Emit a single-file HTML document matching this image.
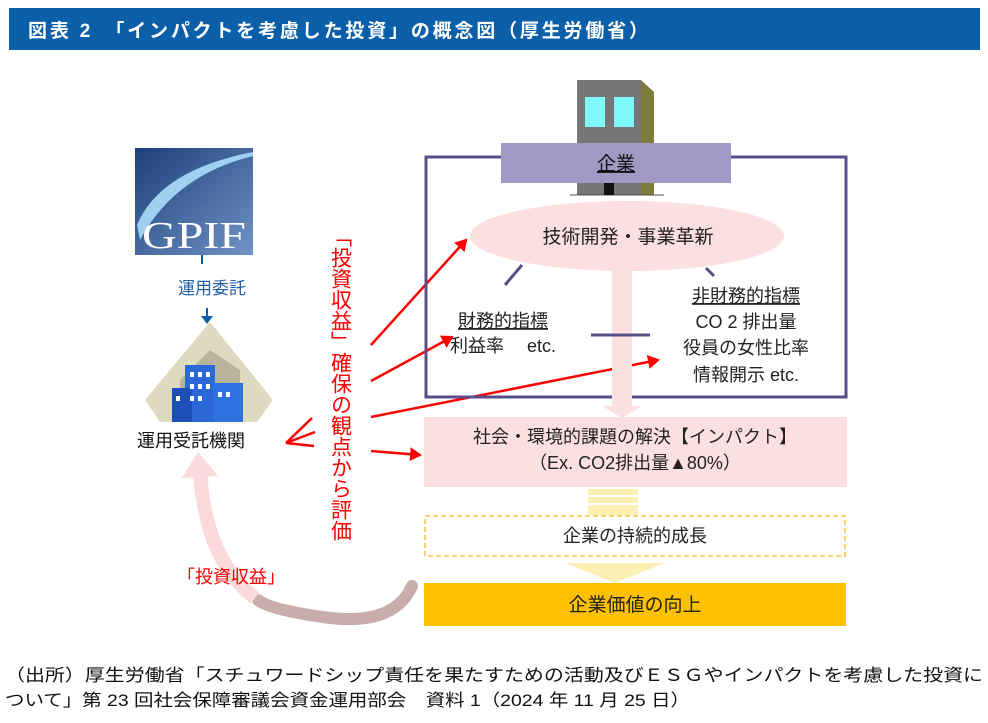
<!DOCTYPE html>
<html><head><meta charset="utf-8"><style>
body{margin:0;width:988px;height:718px;background:#fff;overflow:hidden}
svg text{font-family:"Liberation Sans","Noto Sans CJK JP",sans-serif}
</style></head><body>
<svg width="988" height="718" viewBox="0 0 988 718" xmlns="http://www.w3.org/2000/svg">
<defs>
<linearGradient id="gp" x1="0" y1="0" x2="1" y2="1"><stop offset="0" stop-color="#1d3f7a"/><stop offset="1" stop-color="#6f93c4"/></linearGradient>
<marker id="ar2" markerWidth="14" markerHeight="14" refX="10" refY="7" orient="auto" markerUnits="userSpaceOnUse"><path d="M0,0 L12,7 L0,14 z" fill="#f00"/></marker>
</defs>
<rect x="9" y="8" width="971" height="42" fill="#0a5fa8"/>
<text x="28" y="37" font-size="19" font-weight="bold" fill="#fff" textLength="620" lengthAdjust="spacing">図表 2　「インパクトを考慮した投資」の概念図（厚生労働省）</text>

<!-- GPIF -->
<rect x="135" y="148" width="118" height="107" fill="url(#gp)"/>
<path d="M137,225 Q160,170 253,152 L253,156 Q175,175 140,240 Z" fill="#9fd0f0"/>
<text x="194" y="248" font-size="38" fill="#fff" text-anchor="middle" textLength="104" lengthAdjust="spacingAndGlyphs" style="font-family:'Liberation Serif',serif">GPIF</text>
<line x1="202" y1="255" x2="202" y2="264" stroke="#0a5fa8" stroke-width="2"/>
<text x="178" y="294" font-size="17" fill="#1f5fa6">運用委託</text>
<line x1="207" y1="308" x2="207" y2="318" stroke="#0a5fa8" stroke-width="2"/>
<path d="M201,316 L213,316 L207,324 Z" fill="#0a5fa8"/>
<path d="M210,322 L273,400 L257,422 L160,422 L145,400 Z" fill="#dedac0"/>
<path d="M180,422 L180,380 L210,350 L240,370 L240,422Z" fill="#b8b49a"/>
<rect x="185" y="365" width="30" height="57" fill="#2a68d8"/>
<rect x="172" y="388" width="20" height="34" fill="#1e4fb8"/>
<rect x="213" y="383" width="30" height="39" fill="#3070e0"/>
<g fill="#fff"><rect x="190" y="372" width="4" height="5"/><rect x="198" y="372" width="4" height="5"/><rect x="206" y="372" width="4" height="5"/><rect x="190" y="384" width="4" height="5"/><rect x="198" y="384" width="4" height="5"/><rect x="206" y="384" width="4" height="5"/><rect x="190" y="396" width="4" height="5"/><rect x="198" y="396" width="4" height="5"/><rect x="218" y="392" width="4" height="5"/><rect x="226" y="392" width="4" height="5"/><rect x="176" y="396" width="4" height="5"/></g>
<text x="137" y="447" font-size="18" fill="#111">運用受託機関</text>

<text x="340" y="226" font-size="21" fill="#f00" style="writing-mode:vertical-rl" font-family="Noto Sans CJK JP">「投資収益」確保の観点から評価</text>

<g stroke="#f00" stroke-width="2.5" fill="none">
<line x1="371" y1="345" x2="466" y2="240" marker-end="url(#ar2)"/>
<line x1="371" y1="381" x2="452" y2="337" marker-end="url(#ar2)"/>
<line x1="371" y1="417" x2="658" y2="360" marker-end="url(#ar2)"/>
<line x1="371" y1="451" x2="420" y2="455" marker-end="url(#ar2)"/>
<line x1="312" y1="418" x2="286" y2="443"/>
<line x1="315" y1="432" x2="286" y2="443"/>
<line x1="314" y1="446" x2="286" y2="443"/>
</g>

<path d="M412,586 Q395,625 330,618 Q270,610 258,600" stroke="#c9acac" stroke-width="12" fill="none" stroke-linecap="round"/>
<path d="M255,598 Q205,560 200,470" stroke="#fbd9dc" stroke-width="14" fill="none"/>
<path d="M182,478 L198,452 L218,476 Z" fill="#fbd9dc"/>
<text x="177" y="583" font-size="18" fill="#f00">「投資収益」</text>

<rect x="426" y="157" width="420" height="240" fill="none" stroke="#5a4e88" stroke-width="3"/>
<rect x="577" y="80" width="64" height="115" fill="#767676"/>
<path d="M641,80 L654,92 L654,195 L641,195Z" fill="#7e7c3c"/>
<rect x="585" y="97" width="20" height="30" fill="#7ff8f8"/><rect x="614" y="97" width="20" height="30" fill="#7ff8f8"/>
<line x1="570" y1="195" x2="664" y2="195" stroke="#555"/>
<rect x="501" y="143" width="230" height="40" fill="#a198c4"/>
<rect x="604" y="183" width="10" height="12" fill="#111"/>
<text x="616" y="170" font-size="19" fill="#111" text-anchor="middle" text-decoration="underline">企業</text>
<ellipse cx="627" cy="236" rx="157" ry="35" fill="#fbdfe1"/>
<text x="628" y="243" font-size="19" fill="#222" text-anchor="middle">技術開発・事業革新</text>
<path d="M612,271 L632,271 L632,406 L642,406 L622,418 L602,406 L612,406Z" fill="#fbdfe1"/>
<g stroke="#5a4e88" stroke-width="3"><line x1="522" y1="265" x2="505" y2="285"/><line x1="706" y1="268" x2="714" y2="276"/><line x1="591" y1="335" x2="650" y2="335"/></g>
<text x="458" y="327" font-size="18" fill="#222" text-decoration="underline">財務的指標</text>
<text x="450" y="352" font-size="18" fill="#222">利益率　 etc.</text>
<text x="746" y="302" font-size="18" fill="#222" text-anchor="middle" text-decoration="underline">非財務的指標</text>
<text x="746" y="328" font-size="18" fill="#222" text-anchor="middle">CO 2 排出量</text>
<text x="746" y="354" font-size="18" fill="#222" text-anchor="middle">役員の女性比率</text>
<text x="746" y="381" font-size="18" fill="#222" text-anchor="middle">情報開示 etc.</text>

<rect x="424" y="417" width="423" height="70" fill="#fbdfe1"/>
<text x="635" y="443" font-size="18" fill="#222" text-anchor="middle">社会・環境的課題の解決【インパクト】</text>
<text x="635" y="469" font-size="18" fill="#222" text-anchor="middle">（Ex. CO2排出量▲80%）</text>
<g fill="#fcefb4"><rect x="588" y="489" width="50" height="6"/><rect x="588" y="497" width="50" height="6"/><rect x="588" y="505" width="50" height="10"/></g>
<rect x="425" y="516" width="420" height="40" fill="#fff" stroke="#f5c342" stroke-width="1.5" stroke-dasharray="5,3"/>
<text x="635" y="542" font-size="18" fill="#222" text-anchor="middle">企業の持続的成長</text>
<path d="M565,563 L665,563 L615,583Z" fill="#fcefb4"/>
<rect x="424" y="583" width="422" height="43" fill="#fdc100"/>
<text x="635" y="611" font-size="19" fill="#222" text-anchor="middle">企業価値の向上</text>

<text x="5" y="681" font-size="17" fill="#111" textLength="978" lengthAdjust="spacingAndGlyphs">（出所）厚生労働省「スチュワードシップ責任を果たすための活動及びＥＳＧやインパクトを考慮した投資に</text>
<text x="5" y="706" font-size="17" fill="#111" textLength="685" lengthAdjust="spacingAndGlyphs">ついて」第 23 回社会保障審議会資金運用部会　資料 1（2024 年 11 月 25 日）</text>
</svg>
</body></html>
